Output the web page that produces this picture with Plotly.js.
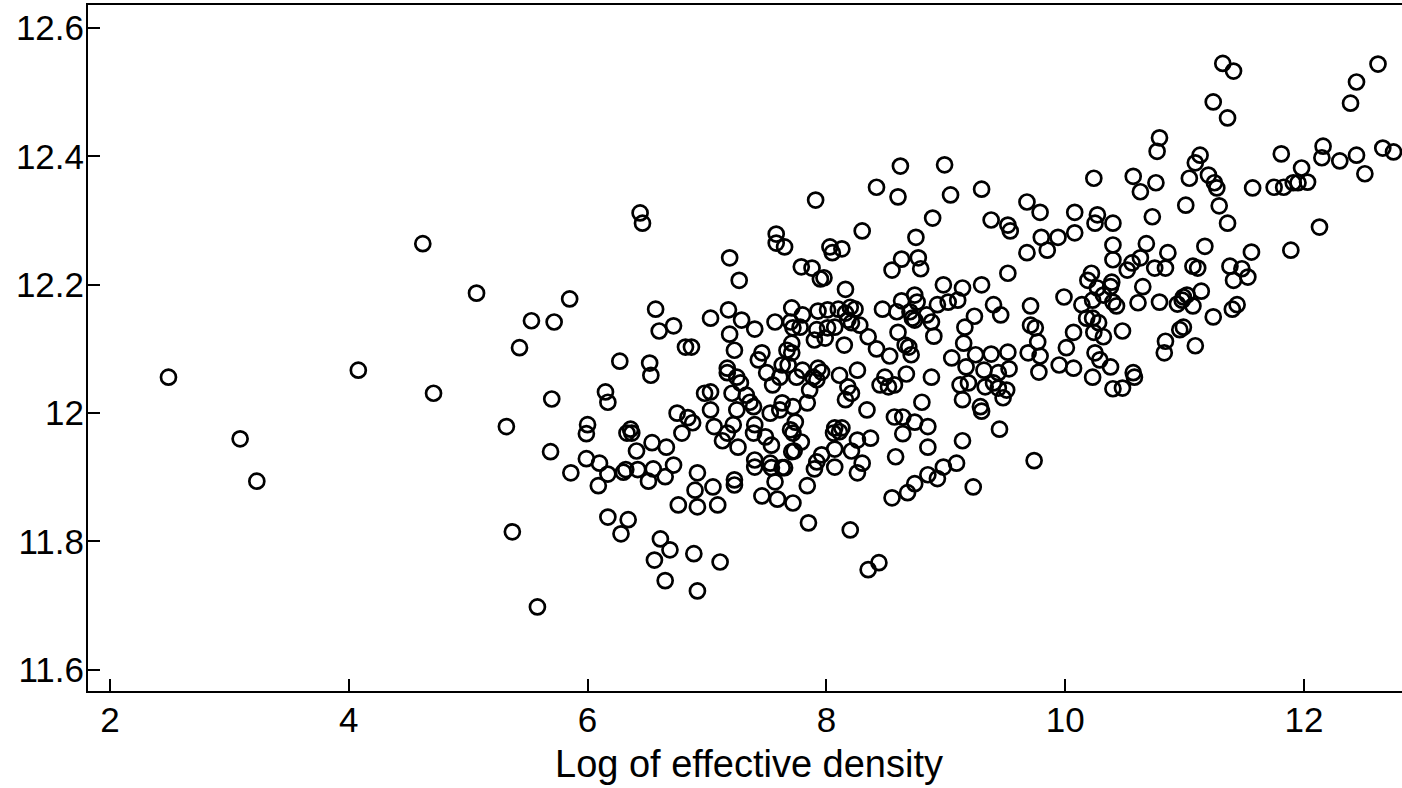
<!DOCTYPE html>
<html>
<head>
<meta charset="utf-8">
<script src="https://cdn.plot.ly/plotly-3.0.1.min.js"></script>
<style>
html, body { margin: 0; padding: 0; overflow: hidden; background: #fff; }
#chart { width: 1420px; height: 788px; }
</style>
</head>
<body>
<div id="chart"></div>
<script>
// Log of effective density (x) and outcome (y)
const xVals = [
  2.49,3.09,3.23,4.08,4.62,4.71,5.07,
  6.44,6.46,7.58,7.58,7.65,
  7.91,8.30,8.42,8.62,8.60,8.75,8.89,8.99,9.04,9.30,
  9.38,9.52,9.54,9.68,9.79,9.80,9.94,10.08,10.08,10.24,
  10.25,10.27,
  11.32,11.41,11.24,11.36,12.62,12.44,12.39,10.79,10.77,11.13,
  11.09,11.81,12.16,12.15,12.30,12.44,12.66,12.75,12.51,10.57,
  10.63,10.76,11.04,11.20,11.25,11.27,11.57,11.75,11.83,11.91,
  11.95,12.03,11.98,11.01,11.29,11.36,10.73,10.40,12.13,
  10.40,10.68,10.86,11.17,11.56,11.89,10.40,10.63,10.56,10.52,
  10.75,10.84,11.07,11.11,11.38,11.48,11.53,11.41,10.22,10.39,
  10.38,10.27,10.65,10.32,10.23,10.40,10.43,10.61,10.79,10.94,
  10.99,11.02,10.98,11.07,11.14,11.24,11.40,11.44,10.23,10.28,
  10.24,10.32,10.48,10.99,10.96,10.84,10.83,11.09,10.25,10.29,
  10.38,10.23,10.57,10.58,10.40,10.48,
  8.03,8.05,8.13,9.68,9.85,8.63,8.77,8.55,8.79,7.79,
  7.88,7.95,7.98,9.52,10.19,8.16,8.98,9.14,9.30,9.99,
  8.63,8.74,8.76,8.93,9.02,9.10,9.40,9.46,9.71,7.71,
  7.80,7.93,8.01,8.10,8.20,8.24,8.16,8.18,8.28,8.47,
  8.59,8.70,8.72,8.74,8.84,8.88,9.24,9.16,10.14,10.18,
  7.70,7.72,7.78,7.92,8.01,8.07,8.21,7.99,7.90,9.71,
  9.75,9.77,9.69,9.79,9.78,8.35,8.60,8.15,8.42,8.53,
  8.66,8.69,8.71,8.90,9.15,9.05,9.25,9.38,9.52,9.17,
  9.32,9.44,9.53,10.01,10.07,9.95,10.07,7.71,7.68,7.80,
  7.93,7.96,7.89,7.92,8.11,8.26,7.75,8.49,8.45,8.52,
  8.57,8.67,8.88,9.12,9.19,9.14,9.33,9.40,9.44,9.51,
  9.48,7.86,7.84,7.72,8.16,8.18,8.21,8.34,8.80,9.29,
  9.30,8.57,8.64,8.74,8.85,8.07,8.13,9.45,7.74,
  7.19,7.27,5.85,5.53,5.72,5.43,6.57,6.72,6.60,6.82,
  6.87,6.27,6.52,6.53,6.15,6.17,5.70,5.32,6.00,6.36,
  7.03,7.18,7.29,7.40,7.19,7.23,7.57,7.46,7.43,7.50,
  7.63,7.67,7.71,7.17,7.17,7.25,7.28,7.55,7.61,7.21,
  7.33,7.36,7.39,7.25,7.03,6.98,7.03,6.75,6.84,6.88,
  7.06,7.22,7.40,7.53,7.61,7.63,
  5.99,6.33,6.37,6.79,7.17,7.39,7.49,7.54,7.70,7.71,
  5.69,6.54,6.66,6.41,7.13,7.26,5.99,6.10,5.86,6.17,
  6.30,6.32,6.42,6.55,6.65,6.51,6.72,6.09,7.40,7.40,
  7.53,7.54,7.63,7.57,6.92,6.90,7.05,7.23,7.23,6.76,
  6.92,7.09,7.46,7.59,7.72,6.17,6.34,6.28,5.37,6.61,
  6.69,6.56,6.89,7.11,6.65,6.92,5.58,
  7.72,7.79,7.73,8.06,8.11,8.26,8.37,8.07,8.21,7.96,
  7.92,7.90,8.07,8.30,8.26,7.65,7.84,7.85,8.20,8.35,
  8.44,8.64,8.85,8.58,9.14,9.74,9.09,8.98,8.85,8.93,
  8.74,8.68,8.55,9.23
];
const yVals = [
  12.056,11.960,11.894,12.067,12.264,12.031,12.187,
  12.312,12.296,12.279,12.265,12.259,
  12.332,12.284,12.352,12.385,12.337,12.274,12.304,12.387,12.340,12.349,
  12.301,12.293,12.284,12.329,12.313,12.274,12.274,12.313,12.281,12.366,
  12.296,12.309,
  12.545,12.533,12.485,12.460,12.544,12.516,12.483,12.429,12.408,12.402,
  12.390,12.404,12.416,12.398,12.393,12.402,12.413,12.407,12.373,12.369,
  12.345,12.359,12.366,12.371,12.359,12.351,12.351,12.352,12.352,12.359,
  12.359,12.360,12.382,12.324,12.323,12.296,12.306,12.296,12.290,
  12.262,12.264,12.250,12.260,12.251,12.254,12.239,12.242,12.234,12.223,
  12.226,12.226,12.229,12.226,12.229,12.225,12.212,12.207,12.218,12.204,
  12.197,12.195,12.197,12.184,12.176,12.173,12.167,12.172,12.173,12.170,
  12.181,12.184,12.176,12.167,12.190,12.150,12.162,12.169,12.148,12.141,
  12.126,12.119,12.128,12.134,12.130,12.112,12.094,12.105,12.094,12.083,
  12.072,12.056,12.063,12.056,12.038,12.039,
  12.259,12.250,12.256,12.250,12.254,12.240,12.242,12.223,12.225,12.228,
  12.226,12.209,12.211,12.218,12.207,12.193,12.200,12.195,12.200,12.181,
  12.175,12.184,12.173,12.169,12.173,12.176,12.169,12.153,12.167,12.164,
  12.153,12.159,12.161,12.162,12.165,12.162,12.156,12.145,12.137,12.162,
  12.158,12.158,12.148,12.145,12.153,12.142,12.151,12.134,12.169,12.148,
  12.142,12.133,12.134,12.130,12.133,12.134,12.141,12.117,12.114,12.137,
  12.133,12.111,12.094,12.089,12.064,12.119,12.126,12.106,12.100,12.089,
  12.106,12.103,12.091,12.120,12.109,12.086,12.091,12.092,12.095,12.072,
  12.067,12.063,12.069,12.102,12.126,12.075,12.070,12.094,12.075,12.067,
  12.070,12.064,12.056,12.052,12.059,12.067,12.056,12.056,12.044,12.041,
  12.044,12.061,12.056,12.044,12.047,12.021,12.041,12.047,12.039,12.036,
  12.024,12.036,12.016,12.010,12.021,12.041,12.031,12.005,12.017,12.010,
  12.003,11.994,11.994,11.986,11.979,11.977,11.977,11.975,11.986,
  12.242,12.207,12.178,12.144,12.142,12.102,12.162,12.136,12.128,12.103,
  12.103,12.081,12.078,12.059,12.033,12.017,12.022,11.979,11.982,11.975,
  12.148,12.161,12.145,12.131,12.123,12.098,12.142,12.094,12.083,12.063,
  12.075,12.098,12.109,12.070,12.063,12.056,12.047,12.044,12.056,12.031,
  12.028,12.017,12.010,12.005,12.005,12.031,12.033,12.000,11.993,11.985,
  11.979,11.982,11.982,12.000,12.005,12.016,
  11.968,11.969,11.969,11.969,11.969,11.969,11.963,11.950,11.974,11.940,
  11.940,11.954,11.947,11.941,11.957,11.947,11.929,11.922,11.907,11.905,
  11.908,11.912,11.912,11.913,11.901,11.894,11.919,11.887,11.927,11.916,
  11.922,11.915,11.915,11.893,11.907,11.880,11.885,11.896,11.888,11.857,
  11.854,11.857,11.871,11.866,11.860,11.838,11.834,11.812,11.815,11.804,
  11.787,11.771,11.781,11.768,11.739,11.723,11.698,
  11.969,11.955,11.941,11.969,11.971,11.958,11.961,11.944,11.941,11.935,
  11.924,11.913,11.916,11.922,11.907,11.915,11.887,11.829,11.818,11.756,
  11.767,11.968,11.947,11.932,11.957,11.926,11.922,11.916,11.904,11.898,
  11.890,11.876,11.868,11.885
];
const xTickVals = [2, 4, 6, 8, 10, 12];
const yTickVals = [11.6, 11.8, 12, 12.2, 12.4, 12.6];
const xTitle = 'Log of effective density';

const fontFam = '"Liberation Sans", Arial, Helvetica, sans-serif';
const axisCommon = {
  showline: true, mirror: true, linecolor: '#000', linewidth: 2,
  ticks: 'inside', ticklen: 12, tickwidth: 2, tickcolor: '#000',
  showgrid: false, zeroline: false,
  tickfont: { family: fontFam, size: 35, color: '#000' }
};

const trace = {
  type: 'scatter', mode: 'markers',
  x: xVals, y: yVals,
  marker: { symbol: 'circle', size: 15, color: 'rgba(0,0,0,0)', line: { color: '#000', width: 2.7 } },
  hoverinfo: 'x+y'
};

const layout = {
  width: 1420, height: 788,
  margin: { l: 88, r: 10, t: 5, b: 97 },
  paper_bgcolor: '#fff', plot_bgcolor: '#fff',
  showlegend: false,
  font: { family: fontFam, color: '#000' },
  xaxis: Object.assign({}, axisCommon, {
    range: [1.816, 12.888], tickvals: xTickVals,
    ticklabelstandoff: -3,
    title: { text: xTitle, font: { family: fontFam, size: 38, color: '#000' }, standoff: 12 },
    automargin: false
  }),
  yaxis: Object.assign({}, axisCommon, {
    range: [11.567, 12.636], tickvals: yTickVals,
    ticklabelstandoff: -5,
    automargin: false
  })
};

Plotly.newPlot('chart', [trace], layout, { displayModeBar: false, responsive: false, staticPlot: true });
</script>
</body>
</html>
